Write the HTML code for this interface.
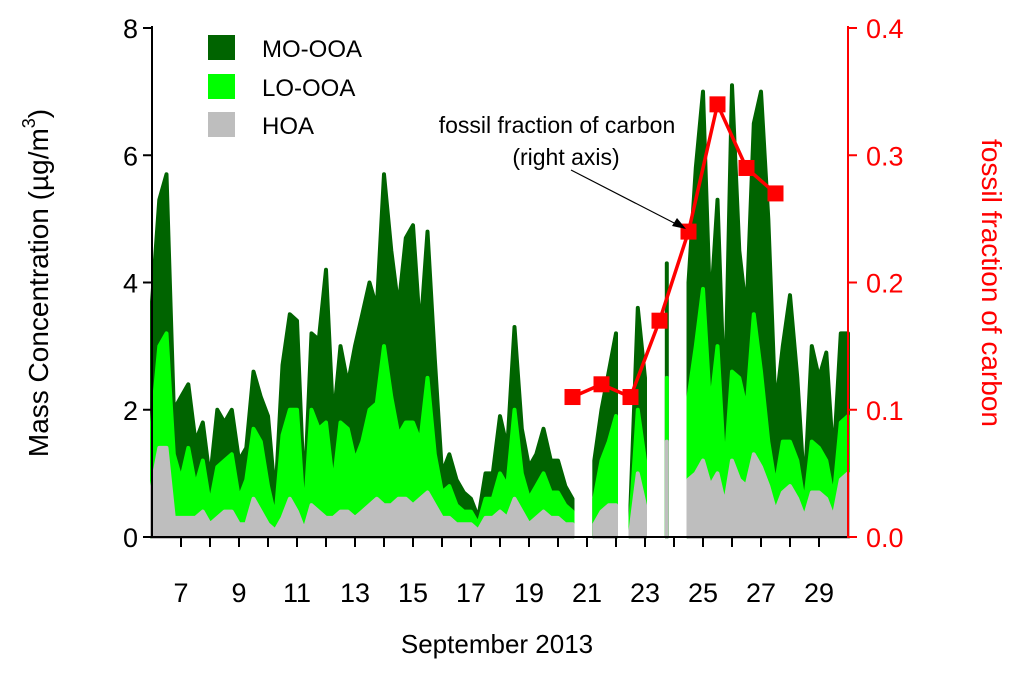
<!DOCTYPE html>
<html><head><meta charset="utf-8">
<style>
html,body{margin:0;padding:0;background:#fff;}
svg{display:block;font-family:"Liberation Sans",Arial,sans-serif;}
</style></head>
<body>
<svg id="chart" width="1024" height="677" viewBox="0 0 1024 677" xmlns="http://www.w3.org/2000/svg">
<g id="areas"></g>
<g id="axes"></g>
<g id="fossil"></g>
<g>
  <rect x="208" y="35" width="27" height="25" fill="#006400"/>
  <text x="262" y="57" font-size="24">MO-OOA</text>
  <rect x="208" y="74" width="27" height="25" fill="#00ff00"/>
  <text x="262" y="96" font-size="24">LO-OOA</text>
  <rect x="208" y="112" width="27" height="25" fill="#bebebe"/>
  <text x="262" y="134" font-size="24">HOA</text>
</g>
<g>
  <text x="557" y="133" font-size="23" text-anchor="middle">fossil fraction of carbon</text>
  <text x="566" y="165" font-size="23" text-anchor="middle">(right axis)</text>
  <line x1="571" y1="170" x2="680" y2="226" stroke="#000" stroke-width="1.2"/>
  <polygon points="686,229 672,226 677,218" fill="#000"/>
</g>
<text transform="translate(48,283) rotate(-90)" font-size="28" text-anchor="middle">Mass Concentration (µg/m<tspan font-size="18" dy="-13">3</tspan><tspan dy="13">)</tspan></text>
<text transform="translate(982,283) rotate(90)" font-size="28" text-anchor="middle" fill="#ff0000">fossil fraction of carbon</text>
<text x="497" y="653" font-size="26" text-anchor="middle">September 2013</text>
</svg>
<script>
// 6-hourly samples starting day 6.0
const startDay = 6.0;
const stepDay = 0.25;
const totalVals = [
3.7,5.3,5.7,2.0, 2.2,2.4,1.5,1.8, 0.9,2.0,1.8,2.0, 1.2,1.4,2.6,2.2, 1.9,0.6,2.7,3.5,
3.4,0.6,3.2,3.1, 4.2,1.8,3.0,2.4, 3.0,3.5,4.0,3.6, 5.7,4.5,3.6,4.7, 4.9,3.2,4.8,2.8,
1.0,1.3,0.9,0.7, 0.6,0.3,1.0,1.0, 1.9,1.4,3.3,1.7, 1.1,1.3,1.7,1.2, 1.2,0.8,0.6,null,
null,1.2,2.0,2.6, 3.2,null,0.5,3.6, 2.5,null,null,4.3, null,null,4.0,5.8, 7.0,3.5,5.3,2.0,
7.1,4.5,3.5,6.5, 7.0,5.0,2.0,3.0, 3.8,2.5,0.7,3.0, 2.5,2.9,1.2,3.2, 3.2];
const loStackVals = [
1.8,3.0,3.2,1.3, 0.9,1.4,0.8,1.2, 0.5,1.1,1.2,1.3, 0.6,0.9,1.7,1.5, 0.8,0.3,1.6,2.0,
2.0,0.3,2.0,1.7, 1.8,0.8,1.8,1.7, 1.2,1.5,2.0,2.1, 3.0,2.2,1.6,1.8, 1.8,1.5,2.5,1.3,
0.7,0.8,0.5,0.4, 0.4,0.2,0.6,0.6, 1.0,0.8,2.0,1.0, 0.6,0.8,1.0,0.7, 0.7,0.5,0.4,null,
null,0.6,1.2,1.5, 1.9,null,0.3,2.0, 1.2,null,null,2.5, null,null,2.2,3.0, 3.9,2.0,3.0,1.0,
2.6,2.5,2.0,3.5, 2.6,1.5,0.8,1.5, 1.5,1.2,0.5,1.5, 1.4,1.2,0.6,1.8, 1.9];
const hoaVals = [
0.8,1.4,1.4,0.3, 0.3,0.3,0.3,0.4, 0.2,0.3,0.4,0.4, 0.2,0.2,0.6,0.4, 0.2,0.1,0.3,0.6,
0.4,0.1,0.5,0.4, 0.3,0.3,0.4,0.4, 0.3,0.4,0.5,0.6, 0.5,0.5,0.6,0.6, 0.5,0.6,0.7,0.5,
0.3,0.3,0.2,0.2, 0.2,0.1,0.3,0.3, 0.4,0.3,0.6,0.4, 0.2,0.3,0.4,0.3, 0.3,0.2,0.2,null,
null,0.2,0.4,0.5, 0.5,null,0.1,1.0, 0.5,null,null,1.5, null,null,0.9,1.0, 1.2,0.8,1.0,0.5,
1.2,0.9,0.8,1.3, 1.1,0.8,0.4,0.7, 0.8,0.6,0.3,0.7, 0.7,0.6,0.3,0.9, 1.0];
const fossilDays = [20.5,21.5,22.5,23.5,24.5,25.5,26.5,27.5];
const fossilVals = [0.11,0.12,0.11,0.17,0.24,0.34,0.29,0.27];
const leftTicks = [0,2,4,6,8];
const rightTicks = [0,0.1,0.2,0.3,0.4];
const dayLabels = [7,9,11,13,15,17,19,21,23,25,27,29];

const NS="http://www.w3.org/2000/svg";
const X0=152, X1=848, D0=6, D1=30, Y0=537, Y1=28;
const xs=d=>X0+(d-D0)*(X1-X0)/(D1-D0);
const yl=v=>Y0-v*(Y0-Y1)/8;
const yr=v=>Y0-v*(Y0-Y1)/0.4;
function mk(tag,attrs,parent){const e=document.createElementNS(NS,tag);for(const k in attrs)e.setAttribute(k,attrs[k]);parent.appendChild(e);return e;}

const areas=document.getElementById('areas');
function drawArea(vals,color,name){
  let seg=[];
  const segs=[];
  vals.forEach((v,i)=>{ if(v===null){ if(seg.length)segs.push(seg); seg=[]; } else seg.push([startDay+i*stepDay,v]); });
  if(seg.length)segs.push(seg);
  segs.forEach(s=>{
    let d='M'+xs(s[0][0]).toFixed(1)+','+Y0;
    s.forEach(p=>{d+=' L'+xs(p[0]).toFixed(1)+','+yl(p[1]).toFixed(1);});
    d+=' L'+xs(s[s.length-1][0]).toFixed(1)+','+Y0+' Z';
    const e=mk('path',{d:d,fill:color,stroke:color,'stroke-width':4,'stroke-linejoin':'round'},areas);
    
    
  });
}
drawArea(totalVals,'#006400','mo-ooa-area');
drawArea(loStackVals,'#00ff00','lo-ooa-area');
drawArea(hoaVals,'#bebebe','hoa-area');

const axes=document.getElementById('axes');
let e;
e=mk('line',{x1:X0,y1:Y1-2,x2:X0,y2:Y0+1,stroke:'#000','stroke-width':2},axes);


e=mk('line',{x1:X0,y1:Y0,x2:X1,y2:Y0,stroke:'#000','stroke-width':2},axes);


e=mk('line',{x1:X1,y1:Y1-2,x2:X1,y2:Y0+1,stroke:'#ff0000','stroke-width':2},axes);


leftTicks.forEach(v=>{
  e=mk('line',{x1:X0-9,y1:yl(v),x2:X0,y2:yl(v),stroke:'#000','stroke-width':2},axes);
  
  
  e=mk('text',{x:X0-14,y:yl(v)+10,'font-size':27,'text-anchor':'end'},axes);
  e.textContent=v;
  
  
});
rightTicks.forEach(v=>{
  e=mk('line',{x1:X1,y1:yr(v),x2:X1+9,y2:yr(v),stroke:'#ff0000','stroke-width':2},axes);
  
  
  e=mk('text',{x:X1+18,y:yr(v)+10,'font-size':27,fill:'#ff0000'},axes);
  e.textContent=v.toFixed(1);
  
  
});
for(let d=7;d<=29;d++){
  e=mk('line',{x1:xs(d),y1:Y0,x2:xs(d),y2:Y0+10,stroke:'#000','stroke-width':2},axes);
  
  
}
dayLabels.forEach(d=>{
  e=mk('text',{x:xs(d),y:Y0+65,'font-size':27,'text-anchor':'middle'},axes);
  e.textContent=d;
  
  
});

const fossil=document.getElementById('fossil');
const pts=fossilDays.map((d,i)=>xs(d).toFixed(1)+','+yr(fossilVals[i]).toFixed(1)).join(' ');
e=mk('polyline',{points:pts,fill:'none',stroke:'#ff0000','stroke-width':3.5},fossil);


fossilDays.forEach((d,i)=>{
  e=mk('rect',{x:xs(d)-8,y:yr(fossilVals[i])-8,width:16,height:16,fill:'#ff0000'},fossil);
  
  
});
</script>
</body></html>
